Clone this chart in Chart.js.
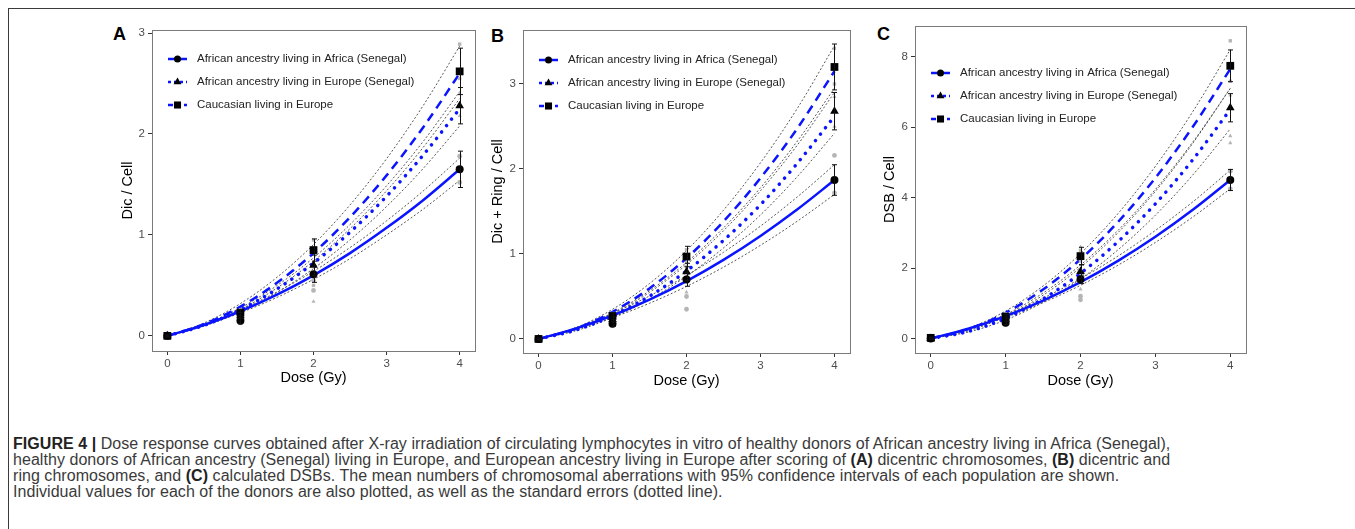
<!DOCTYPE html>
<html>
<head>
<meta charset="utf-8">
<script src="https://cdn.jsdelivr.net/npm/chart.js@4.4.1/dist/chart.umd.min.js"></script>
<style>
  body { margin: 0; background: #fff; width: 1355px; height: 529px; overflow: hidden; position: relative; font-family: "Liberation Sans", Arial, sans-serif; }
  .frame { position: absolute; left: 8px; top: 8px; width: 1360px; height: 540px; border-top: 1.5px solid #3a3a3a; border-left: 1.5px solid #3a3a3a; }
  canvas { position: absolute; }
  .letter { position: absolute; font: bold 18px "Liberation Sans", Arial, sans-serif; line-height: 18px; color: #000; }
  .caption { position: absolute; left: 13px; top: 435.5px; font-family: "Liberation Sans", Arial, sans-serif; font-size: 16px; letter-spacing: 0.05px; line-height: 16px; color: #3a3a3a; white-space: nowrap; }
  .caption b { font-weight: 700; color: #222; }
</style>
</head>
<body>
<div class="frame"></div>
<div class="letter" style="left:113px;top:25px">A</div>
<div class="letter" style="left:491px;top:27px">B</div>
<div class="letter" style="left:877px;top:25px">C</div>
<canvas id="chartA" width="385" height="375" style="left:100px;top:20px"></canvas>
<canvas id="chartB" width="390" height="375" style="left:470px;top:20px"></canvas>
<canvas id="chartC" width="394" height="379" style="left:862px;top:16px"></canvas>
<div class="caption" id="caption">
<span><b>FIGURE 4 |</b> Dose response curves obtained after X-ray irradiation of circulating lymphocytes in vitro of healthy donors of African ancestry living in Africa (Senegal),</span><br>
<span>healthy donors of African ancestry (Senegal) living in Europe, and European ancestry living in Europe after scoring of <b>(A)</b> dicentric chromosomes, <b>(B)</b> dicentric and</span><br>
<span>ring chromosomes, and <b>(C)</b> calculated DSBs. The mean numbers of chromosomal aberrations with 95% confidence intervals of each population are shown.</span><br>
<span>Individual values for each of the donors are also plotted, as well as the standard errors (dotted line).</span>
</div>
<script>
// groups, shared by all three panels
const groups = ['African ancestry living in Africa (Senegal)', 'African ancestry living in Europe (Senegal)', 'Caucasian living in Europe'];
const doses = [0, 0.5, 1, 1.5, 2, 2.5, 3, 3.5, 4];
const meanDoses = [0, 1, 2, 4];
const xTicks = [0, 1, 2, 3, 4];

// Panel A - Dic / Cell
const aAfrFit = [0, 0.108, 0.244, 0.408, 0.60, 0.82, 1.07, 1.344, 1.65];
const aAfrUp  = [0, 0.115, 0.26, 0.435, 0.64, 0.875, 1.14, 1.435, 1.76];
const aAfrLo  = [0, 0.10, 0.228, 0.381, 0.56, 0.765, 1.0, 1.255, 1.54];
const aEurFit = [0, 0.104, 0.259, 0.464, 0.72, 1.027, 1.383, 1.79, 2.25];
const aEurUp  = [0, 0.112, 0.278, 0.498, 0.773, 1.103, 1.487, 1.925, 2.42];
const aEurLo  = [0, 0.096, 0.24, 0.43, 0.667, 0.951, 1.281, 1.657, 2.08];
const aCauFit = [0, 0.115, 0.29, 0.525, 0.82, 1.175, 1.59, 2.065, 2.6];
const aCauUp  = [0, 0.127, 0.32, 0.58, 0.905, 1.297, 1.755, 2.28, 2.87];
const aCauLo  = [0, 0.104, 0.262, 0.474, 0.741, 1.062, 1.437, 1.866, 2.35];
const aMeans = [[0, 0.15, 0.61, 1.65], [0, 0.20, 0.70, 2.28], [0, 0.23, 0.85, 2.62]];
const aSE    = [[0.01, 0.03, 0.08, 0.18], [0.01, 0.03, 0.10, 0.18], [0.01, 0.03, 0.11, 0.23]];
const aIndX  = [[1, 1, 2, 2, 4, 4], [1, 1, 2, 2, 4, 4], [1, 1, 2, 2, 4, 4]];
const aIndY  = [[0.13, 0.18, 0.45, 0.55, 1.52, 1.78], [0.17, 0.22, 0.34, 0.60, 2.18, 2.40], [0.20, 0.26, 0.50, 0.95, 2.55, 2.89]];

// Panel B - Dic + Ring / Cell
const bAfrFit = [0, 0.122, 0.276, 0.462, 0.68, 0.93, 1.212, 1.526, 1.87];
const bAfrUp  = [0, 0.133, 0.302, 0.506, 0.745, 1.02, 1.328, 1.673, 2.05];
const bAfrLo  = [0, 0.111, 0.251, 0.42, 0.618, 0.845, 1.102, 1.387, 1.70];
const bEurFit = [0, 0.104, 0.2725, 0.504, 0.8, 1.16, 1.58, 2.07, 2.62];
const bEurUp  = [0, 0.117, 0.307, 0.567, 0.9, 1.306, 1.779, 2.33, 2.95];
const bEurLo  = [0, 0.096, 0.252, 0.466, 0.739, 1.071, 1.459, 1.912, 2.42];
const bCauFit = [0, 0.12, 0.319, 0.595, 0.95, 1.383, 1.893, 2.48, 3.15];
const bCauUp  = [0, 0.131, 0.349, 0.652, 1.04, 1.515, 2.073, 2.716, 3.45];
const bCauLo  = [0, 0.11, 0.294, 0.548, 0.875, 1.273, 1.743, 2.283, 2.9];
const bMeans = [[0, 0.18, 0.70, 1.87], [0, 0.23, 0.79, 2.68], [0, 0.27, 0.97, 3.20]];
const bSE    = [[0.01, 0.03, 0.08, 0.18], [0.01, 0.03, 0.10, 0.22], [0.01, 0.04, 0.12, 0.27]];
const bIndX  = [[1, 1, 2, 2, 4, 4], [1, 1, 2, 2, 4, 4], [1, 1, 2, 2, 4, 4]];
const bIndY  = [[0.16, 0.21, 0.35, 0.50, 1.72, 2.16], [0.20, 0.26, 0.55, 0.85, 2.50, 2.85], [0.24, 0.30, 0.90, 1.05, 3.00, 3.42]];

// Panel C - DSB / Cell
const cAfrFit = [0, 0.278, 0.638, 1.078, 1.6, 2.203, 2.888, 3.653, 4.5];
const cAfrUp  = [0, 0.295, 0.678, 1.145, 1.70, 2.34, 3.068, 3.88, 4.78];
const cAfrLo  = [0, 0.263, 0.602, 1.018, 1.511, 2.081, 2.728, 3.45, 4.25];
const cEurFit = [0, 0.2, 0.575, 1.125, 1.85, 2.75, 3.825, 5.075, 6.5];
const cEurUp  = [0, 0.218, 0.628, 1.229, 2.021, 3.004, 4.178, 5.543, 7.1];
const cEurLo  = [0, 0.183, 0.526, 1.03, 1.693, 2.517, 3.501, 4.645, 5.95];
const cCauFit = [0, 0.267, 0.73, 1.392, 2.25, 3.306, 4.56, 6.01, 7.65];
const cCauUp  = [0, 0.286, 0.782, 1.492, 2.412, 3.544, 4.888, 6.442, 8.2];
const cCauLo  = [0, 0.248, 0.678, 1.292, 2.088, 3.068, 4.232, 5.578, 7.1];
const cMeans = [[0, 0.45, 1.68, 4.50], [0, 0.55, 1.90, 6.55], [0.02, 0.62, 2.34, 7.74]];
const cSE    = [[0.02, 0.05, 0.12, 0.30], [0.02, 0.06, 0.20, 0.40], [0.02, 0.06, 0.25, 0.45]];
const cIndX  = [[1, 1, 2, 2, 4, 4], [1, 1, 2, 2, 4, 4, 4], [1, 1, 2, 2, 4, 4]];
const cIndY  = [[0.40, 0.55, 1.10, 1.20, 4.25, 4.75], [0.50, 0.65, 1.40, 2.60, 5.55, 5.75, 6.90], [0.55, 0.70, 2.20, 2.50, 7.30, 8.45]];

const markers = ['circle', 'triangle', 'rect'];
const markerSize = [4, 5, 5.5];
const blueDash = [[], [0.1, 8], [9, 6]];
const blue = '#0a14ff';

const xy = (xs, ys) => xs.map((x, i) => ({ x: x, y: ys[i] }));

const errorBars = {
    id: 'errorBars',
    afterDatasetsDraw(chart) {
        const ctx = chart.ctx, xs = chart.scales.x, ys = chart.scales.y;
        chart.data.datasets.forEach(ds => {
            if (!ds.errors) return;
            ctx.save();
            ctx.strokeStyle = '#111';
            ctx.lineWidth = 1;
            ds.data.forEach((p, i) => {
                const px = Math.round(xs.getPixelForValue(p.x)) + 0.5;
                const top = ys.getPixelForValue(p.y + ds.errors[i]);
                const bot = ys.getPixelForValue(p.y - ds.errors[i]);
                ctx.beginPath();
                ctx.moveTo(px, top); ctx.lineTo(px, bot);
                ctx.moveTo(px - 2.5, top); ctx.lineTo(px + 2.5, top);
                ctx.moveTo(px - 2.5, bot); ctx.lineTo(px + 2.5, bot);
                ctx.stroke();
            });
            ctx.restore();
        });
    }
};

// panel box + the legend drawn inside it
const boxLegend = {
    id: 'boxLegend',
    afterDraw(chart, args, opts) {
        const ctx = chart.ctx, a = chart.chartArea;
        ctx.save();
        ctx.strokeStyle = '#7a7a7a';
        ctx.lineWidth = 1;
        ctx.strokeRect(Math.round(a.left) + 0.5, Math.round(a.top) + 0.5, Math.round(a.right - a.left), Math.round(a.bottom - a.top));
        ctx.font = '11.5px "Liberation Sans", Arial, sans-serif';
        ctx.textBaseline = 'middle';
        groups.forEach((g, i) => {
            const y = a.top + opts.top + i * 23;
            const x0 = a.left + 16, x1 = a.left + 35;
            ctx.strokeStyle = blue;
            ctx.lineWidth = 2.5;
            ctx.setLineDash(i === 1 ? [3, 3] : i === 2 ? [5, 3] : []);
            ctx.beginPath(); ctx.moveTo(x0, y); ctx.lineTo(x1, y); ctx.stroke();
            ctx.setLineDash([]);
            ctx.fillStyle = '#000';
            Chart.helpers.drawPoint(ctx, { pointStyle: markers[i], radius: markerSize[i] - 0.5, rotation: 0, borderWidth: 0 }, (x0 + x1) / 2, y);
            ctx.fillStyle = '#222';
            ctx.fillText(g, a.left + 45, y);
        });
        ctx.restore();
    }
};

function makePanel(id, o) {
    const datasets = [];
    // means (drawn on top)
    o.means.forEach((m, i) => datasets.push({
        data: xy(meanDoses, m), errors: o.se[i], showLine: false,
        pointStyle: markers[i], pointRadius: markerSize[i],
        pointBackgroundColor: '#000', pointBorderColor: '#000', pointBorderWidth: 0
    }));
    // individual donors
    o.indX.forEach((xs, i) => datasets.push({
        data: xy(xs, o.indY[i]), showLine: false,
        pointStyle: markers[i], pointRadius: 2.4,
        pointBackgroundColor: '#b5b5b5', pointBorderColor: '#b5b5b5', pointBorderWidth: 0
    }));
    // fitted curves
    o.fits.forEach((f, i) => datasets.push({
        data: xy(doses, f), borderColor: blue, borderWidth: i === 1 ? 3.5 : 2.5,
        borderDash: blueDash[i], borderCapStyle: i === 1 ? 'round' : 'butt',
        pointRadius: 0, cubicInterpolationMode: 'monotone'
    }));
    // standard error bands
    o.bands.forEach(b => datasets.push({
        data: xy(doses, b), borderColor: '#555', borderWidth: 1, borderDash: [2, 2],
        pointRadius: 0, cubicInterpolationMode: 'monotone'
    }));

    const tickFont = { family: '"Liberation Sans", Arial, sans-serif', size: 11.5 };
    const titleFont = { family: '"Liberation Sans", Arial, sans-serif', size: 14.5 };
    return new Chart(document.getElementById(id), {
        type: 'line',
        data: { datasets: datasets },
        plugins: [errorBars, boxLegend],
        options: {
            responsive: false, animation: false, devicePixelRatio: 1,
            layout: { padding: { left: 0, top: 10, right: 10, bottom: 0 } },
            plugins: { legend: { display: false }, tooltip: { enabled: false }, boxLegend: { top: o.legendTop } },
            scales: {
                x: {
                    type: 'linear', min: -0.21, max: 4.21,
                    afterFit: s => { s.height = o.xHeight; },
                    afterBuildTicks: s => { s.ticks = xTicks.map(v => ({ value: v })); },
                    ticks: { color: '#4d4d4d', font: tickFont, padding: 2 },
                    grid: { drawOnChartArea: false, tickLength: 4, color: '#333' },
                    border: { display: false },
                    title: { display: true, text: 'Dose (Gy)', color: '#000', font: titleFont, padding: { top: 0, bottom: o.xTitlePad } }
                },
                y: {
                    type: 'linear', min: o.yMin, max: o.yMax,
                    afterFit: s => { s.width = o.yWidth; },
                    afterBuildTicks: s => { s.ticks = o.yTicks.map(v => ({ value: v })); },
                    ticks: { color: '#4d4d4d', font: tickFont, padding: 3 },
                    grid: { drawOnChartArea: false, tickLength: 4, color: '#333' },
                    border: { display: false },
                    title: { display: true, text: o.yTitle, color: '#000', font: titleFont, padding: { top: 19, bottom: 0 } }
                }
            }
        }
    });
}

makePanel('chartA', {
    means: aMeans, se: aSE, indX: aIndX, indY: aIndY,
    fits: [aAfrFit, aEurFit, aCauFit], bands: [aAfrUp, aAfrLo, aEurUp, aEurLo, aCauUp, aCauLo],
    yMin: -0.15, yMax: 3.03, yTicks: [0, 1, 2, 3], yTitle: 'Dic / Cell',
    yWidth: 52, xHeight: 44, xTitlePad: 8, legendTop: 29
});
makePanel('chartB', {
    means: bMeans, se: bSE, indX: bIndX, indY: bIndY,
    fits: [bAfrFit, bEurFit, bCauFit], bands: [bAfrUp, bAfrLo, bEurUp, bEurLo, bCauUp, bCauLo],
    yMin: -0.165, yMax: 3.635, yTicks: [0, 1, 2, 3], yTitle: 'Dic + Ring / Cell',
    yWidth: 53, xHeight: 42, xTitlePad: 5, legendTop: 30
});
makePanel('chartC', {
    means: cMeans, se: cSE, indX: cIndX, indY: cIndY,
    fits: [cAfrFit, cEurFit, cCauFit], bands: [cAfrUp, cAfrLo, cEurUp, cEurLo, cCauUp, cCauLo],
    yMin: -0.41, yMax: 8.87, yTicks: [0, 2, 4, 6, 8], yTitle: 'DSB / Cell',
    yWidth: 53, xHeight: 42, xTitlePad: 5, legendTop: 47
});
</script>
</body>
</html>
